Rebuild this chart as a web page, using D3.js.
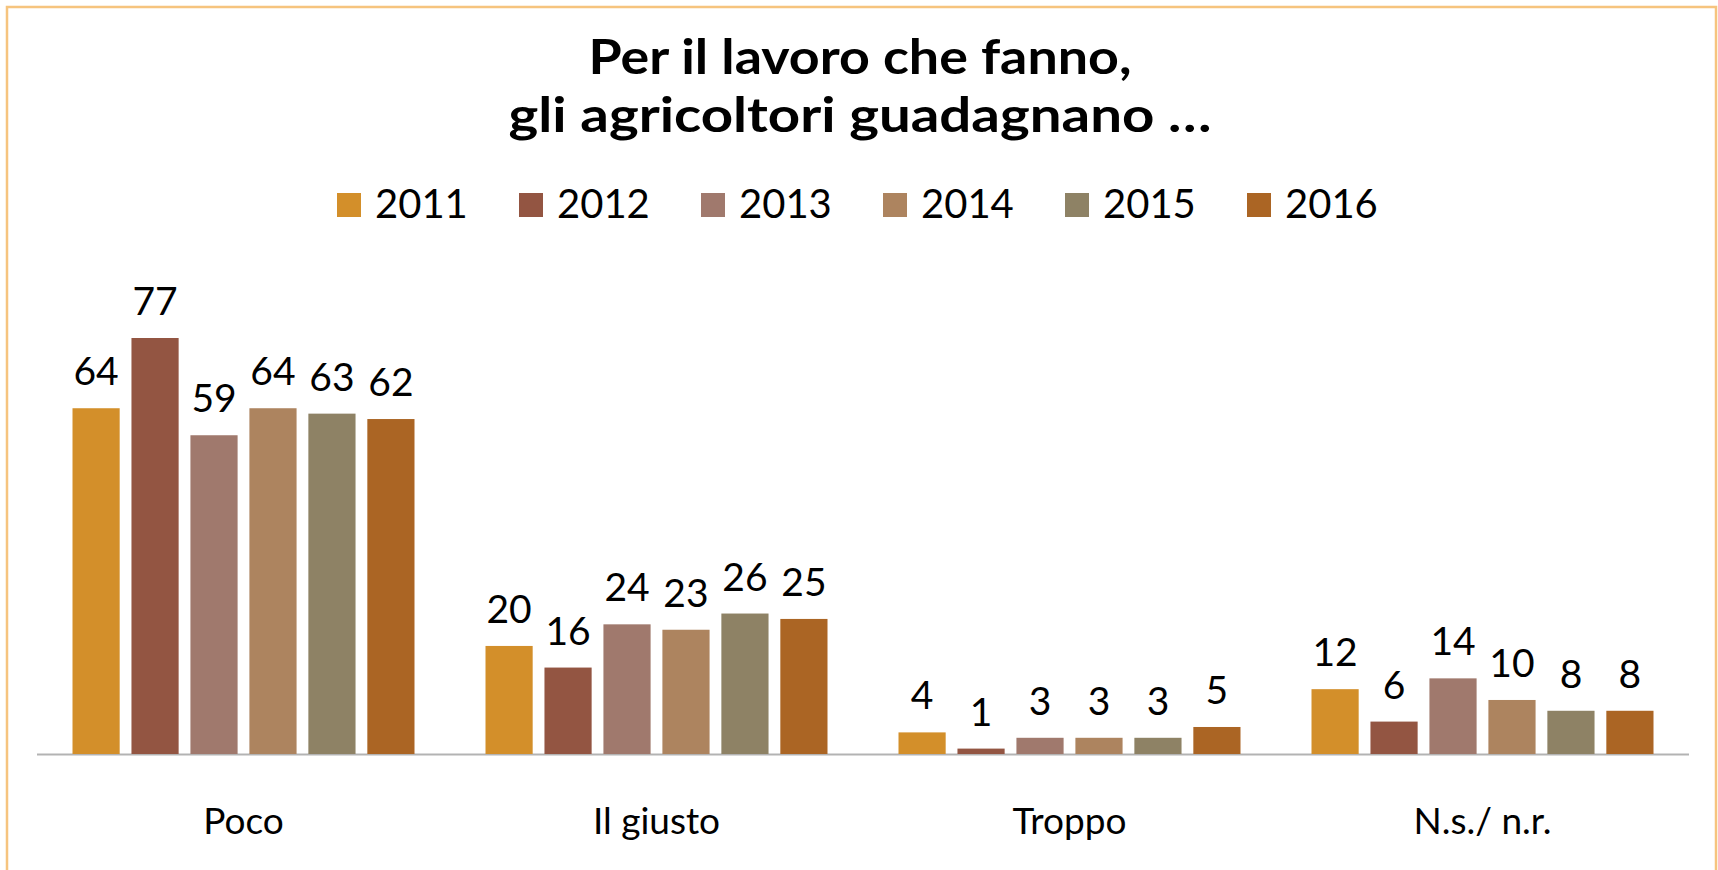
<!DOCTYPE html>
<html>
<head>
<meta charset="utf-8">
<script src="https://cdn.jsdelivr.net/npm/d3@7"></script>
<style>
  html, body { margin: 0; padding: 0; background: #fff; }
  svg { display: block; }
</style>
</head>
<body>
<script>
const width = 1718;
const height = 870;

// data
const categories = ["Poco", "Il giusto", "Troppo", "N.s./ n.r."];
const years = ["2011", "2012", "2013", "2014", "2015", "2016"];
const values2011 = [64, 20, 4, 12];
const values2012 = [77, 16, 1, 6];
const values2013 = [59, 24, 3, 14];
const values2014 = [64, 23, 3, 10];
const values2015 = [63, 26, 3, 8];
const values2016 = [62, 25, 5, 8];
const titleLines = ["Per il lavoro che fanno,", "gli agricoltori guadagnano \u2026"];

const seriesValues = [values2011, values2012, values2013, values2014, values2015, values2016];
const colors = ["#d38f2a", "#935542", "#a0796d", "#ad845f", "#8e8265", "#ab6524"];

const margin = {left: 37, right: 29, baseline: 754};
const fontFamily = "Lato, 'Open Sans', sans-serif";

const svg = d3.select("body")
    .append("svg")
    .attr("width", width)
    .attr("height", height);

// frame
svg.append("rect")
    .attr("x", 7)
    .attr("y", 7)
    .attr("width", 1709)
    .attr("height", 900)
    .attr("fill", "none")
    .attr("stroke", "#f6c47e")
    .attr("stroke-width", 2.5);

// title
const titleWidths = [543, 703];
svg.selectAll(".title")
    .data(titleLines)
    .join("text")
    .attr("class", "title")
    .attr("x", 860)
    .attr("y", (d, i) => 74 + i * 58)
    .attr("text-anchor", "middle")
    .attr("font-family", fontFamily)
    .attr("font-weight", "bold")
    .attr("font-size", 48)
    .attr("fill", "#000")
    .attr("textLength", (d, i) => titleWidths[i])
    .attr("lengthAdjust", "spacingAndGlyphs")
    .text(d => d);

// legend
const legend = svg.append("g").attr("transform", "translate(337,193)");
const legendItem = legend.selectAll(".legend")
    .data(years)
    .join("g")
    .attr("class", "legend")
    .attr("transform", (d, i) => "translate(" + (i * 182) + ",0)");

legendItem.append("rect")
    .attr("width", 24)
    .attr("height", 24)
    .attr("fill", (d, i) => colors[i]);

legendItem.append("text")
    .attr("x", 38)
    .attr("y", 25)
    .attr("font-family", fontFamily)
    .attr("font-size", 40)
    .attr("fill", "#000")
    .text(d => d);

// scales
const y = d3.scaleLinear()
    .domain([0, 77])
    .range([margin.baseline, margin.baseline - 416]);

const x0 = d3.scaleBand()
    .domain(categories)
    .range([margin.left, width - margin.right]);

const x1 = d3.scaleBand()
    .domain(years)
    .range([x0.bandwidth() / 2 - 171, x0.bandwidth() / 2 + 171])
    .paddingInner(0.2)
    .paddingOuter(0);

const rows = categories.map((c, ci) => ({
    category: c,
    bars: years.map((yr, yi) => ({year: yr, value: seriesValues[yi][ci], color: colors[yi]}))
}));

// axis line
svg.append("line")
    .attr("x1", margin.left)
    .attr("x2", width - margin.right)
    .attr("y1", margin.baseline + 0.5)
    .attr("y2", margin.baseline + 0.5)
    .attr("stroke", "#b3b3b3")
    .attr("stroke-width", 2);

const group = svg.selectAll(".group")
    .data(rows)
    .join("g")
    .attr("class", "group")
    .attr("transform", d => "translate(" + x0(d.category) + ",0)");

group.selectAll(".bar")
    .data(d => d.bars)
    .join("rect")
    .attr("class", "bar")
    .attr("x", d => x1(d.year))
    .attr("y", d => y(d.value))
    .attr("width", x1.bandwidth())
    .attr("height", d => y(0) - y(d.value))
    .attr("fill", d => d.color);

group.selectAll(".value")
    .data(d => d.bars)
    .join("text")
    .attr("class", "value")
    .attr("x", d => x1(d.year) + x1.bandwidth() / 2)
    .attr("y", d => y(d.value) - 23)
    .attr("text-anchor", "middle")
    .attr("font-family", fontFamily)
    .attr("font-size", 39)
    .attr("fill", "#000")
    .text(d => d.value);

// category labels
svg.selectAll(".cat")
    .data(categories)
    .join("text")
    .attr("class", "cat")
    .attr("x", d => x0(d) + x0.bandwidth() / 2)
    .attr("y", 834)
    .attr("text-anchor", "middle")
    .attr("font-family", fontFamily)
    .attr("font-size", 37)
    .attr("fill", "#000")
    .text(d => d);
</script>
</body>
</html>
